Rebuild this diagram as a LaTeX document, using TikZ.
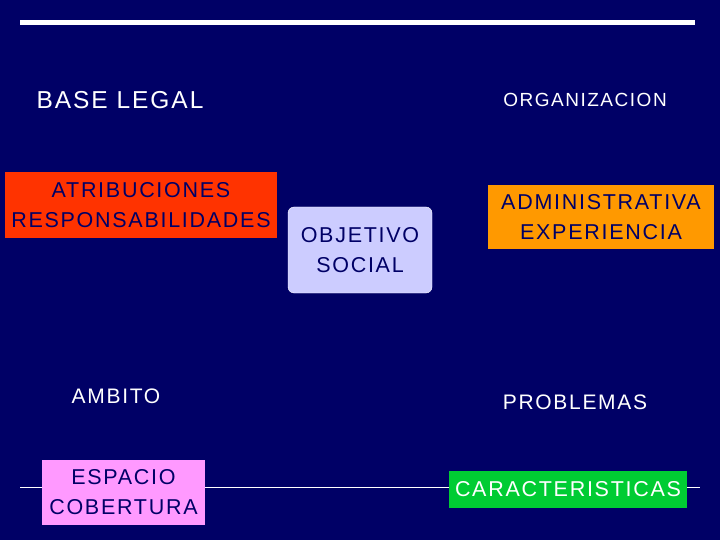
\documentclass[tikz,border=0pt]{standalone}
\usepackage{fontspec}
\setmainfont{Liberation Sans}[LetterSpace=8]
\begin{document}
\begin{tikzpicture}[x=1pt,y=-1pt,
  lbl/.style={text=white,font=\fontsize{21}{24}\selectfont},
  box/.style={font=\fontsize{21.5}{30}\selectfont,align=center,inner sep=0pt,text=navyc}]
\definecolor{bgc}{RGB}{0,0,102}
\definecolor{navyc}{RGB}{0,0,102}
\definecolor{redc}{RGB}{255,51,0}
\definecolor{orc}{RGB}{255,153,0}
\definecolor{lavc}{RGB}{204,204,255}
\definecolor{pinkc}{RGB}{255,153,255}
\definecolor{grc}{RGB}{0,204,51}
\fill[bgc] (0,0) rectangle (720,540);
\useasboundingbox (0,0) rectangle (720,540);
\coordinate (t1) at (20,23); \coordinate (t2) at (695,23);
\draw[white,line width=5pt] (t1) -- (t2);
\coordinate (h1) at (20,487); \coordinate (h2) at (700,487);
\draw[white,line width=0.6pt] (h1) -- (h2);
\node[lbl,font=\fontsize{24.5}{28}\selectfont] (bl) at (120,100) {BASE LEGAL};
\node[lbl,font=\fontsize{19}{22}\selectfont] (org) at (585,100) {ORGANIZACION};
\node[box,fill=redc,minimum width=272pt,minimum height=66pt] (at) at (141,205) {ATRIBUCIONES\\RESPONSABILIDADES};
\node[box,fill=lavc,rounded corners=6pt,draw=white,minimum width=144pt,minimum height=86pt] (ob) at (360,250) {OBJETIVO\\SOCIAL};
\node[box,fill=orc,minimum width=226pt,minimum height=64pt] (ad) at (601,217) {ADMINISTRATIVA\\EXPERIENCIA};
\node[lbl] (am) at (116,396) {AMBITO};
\node[lbl] (pr) at (575,402) {PROBLEMAS};
\node[box,fill=pinkc,minimum width=163pt,minimum height=65pt] (es) at (123.5,492) {ESPACIO\\COBERTURA};
\node[box,fill=grc,text=white,minimum width=238pt,minimum height=37pt] (ca) at (568,489.5) {CARACTERISTICAS};
\end{tikzpicture}
\end{document}
